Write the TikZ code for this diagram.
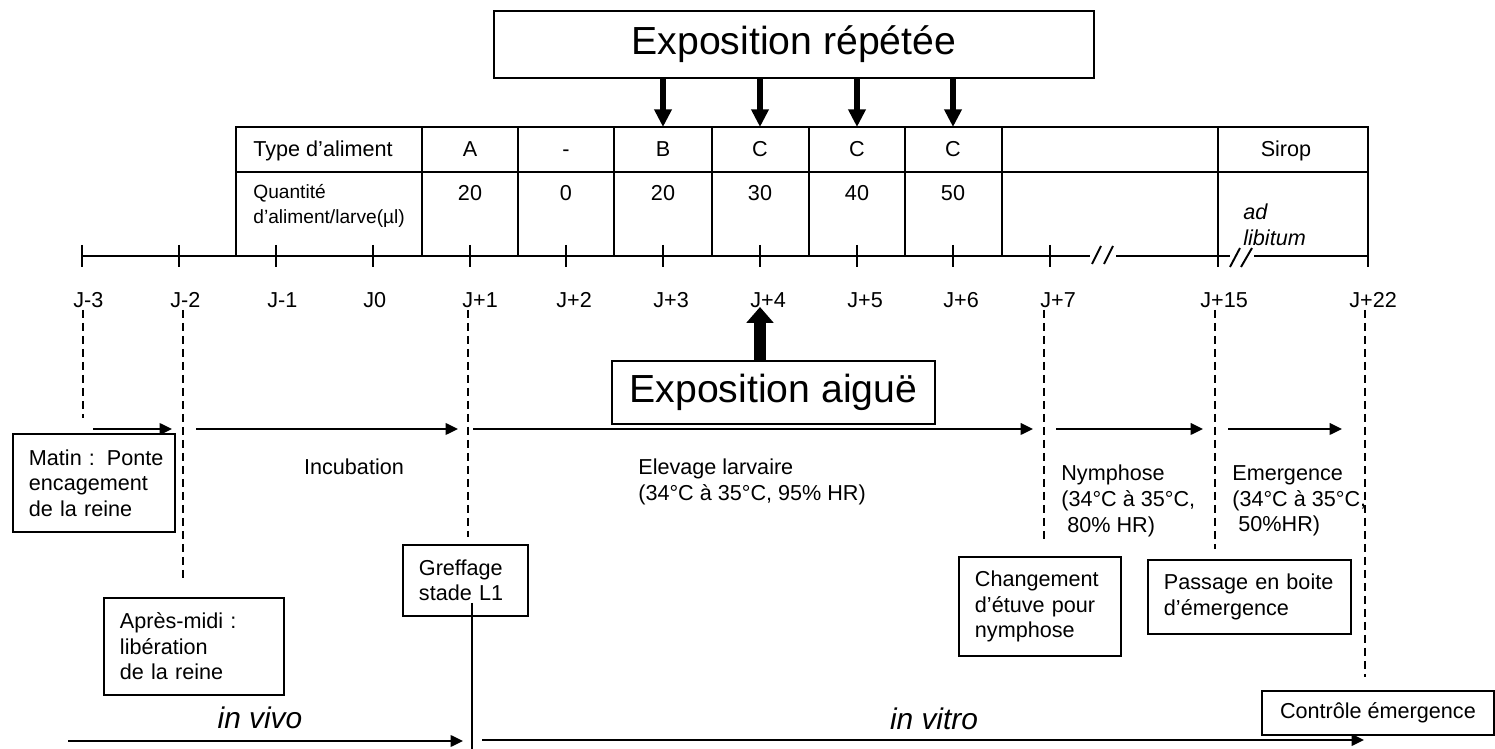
\documentclass[tikz,border=0pt]{standalone}
\usepackage{fontspec}
\setmainfont{Liberation Sans}
\usetikzlibrary{arrows.meta,positioning,calc}

\begin{document}
\begin{tikzpicture}[
  x=0.02cm, y=-0.02cm,
  font=\fontsize{12.3}{14.6}\selectfont,
  every node/.style={inner sep=0pt},
  rule/.style={line width=1.1pt},
  guide/.style={line width=1.1pt, dash pattern=on 0.16cm off 0.1cm},
  phase/.style={line width=1.2pt, -{Triangle[length=7pt,width=6.5pt]}},
  expo/.style={line width=3pt, -{Triangle[length=10pt,width=9.5pt]}},
  acute/.style={line width=7pt, -{Triangle[length=9pt,width=15pt]}},
  title/.style={draw, line width=1.1pt, font=\fontsize{22.3}{26}\selectfont, anchor=north west},
  event/.style={draw, line width=1.1pt, align=left, inner xsep=0.32cm, anchor=north west},
  mode/.style={font=\fontsize{17}{20}\selectfont\itshape},
]
  \useasboundingbox (0,0) rectangle (1495,749);

  % exposure boxes
  \node[title, minimum width=12cm, minimum height=1.34cm] (rep) at (493,10) {Exposition répétée};
  \node[title, minimum width=6.46cm, minimum height=1.26cm] (aigue) at (611,360) {Exposition aiguë};

  % food table
  \coordinate (tabtop) at (236,127);
  \draw[rule] (236,256) -- (tabtop) -- (1368,127) -- (1368,267);
  \draw[rule] (236,172) -- (1368,172);
  \foreach \x in {422,518,614,712,809,905,1002} \draw[rule] (\x,127) -- (\x,256);
  \draw[rule] (1218,127) -- (1218,267);

  \node[anchor=base west] (type) at (253,157) {Type d’aliment};
  \node[anchor=west, align=left, font=\fontsize{10.9}{14.2}\selectfont] (qty) at (253,206) {Quantité\\d’aliment/larve(µl)};
  \foreach \x/\t/\q [count=\k] in {470/A/20, 566/-/0, 663/B/20, 760/C/30, 857/C/40, 953/C/50} {
    \node[anchor=base] (f\k) at (\x,157) {\t};
    \node[anchor=base] (q\k) at (\x,201) {\q};
  }
  \node[anchor=base] (sirop) at (1286,157) {Sirop};
  \node[anchor=west, align=left, font=\fontsize{12.3}{14.6}\selectfont\itshape] (adlib) at (1243,225) {ad\\libitum};

  % time axis
  \draw[rule] (82,256) -- (1090,256) (1116,256) -- (1230,256) (1254,256) -- (1368,256);
  \draw[rule] (1092,264) -- (1101,246) (1104,264) -- (1113,246);
  \draw[rule] (1230,267) -- (1240,248) (1241,267) -- (1252,248);
  \foreach \x/\lab/\o [count=\i from 0] in {82/J-3/9, 179/J-2/9, 276/J-1/9, 373/J0/10, 470/J+1/8,
      566/J+2/10, 663/J+3/10, 760/J+4/10, 857/J+5/10, 953/J+6/10, 1050/J+7/10, 1218/J+15/18, 1368/J+22/19} {
    \coordinate (d\i) at (\x,256);
    \draw[rule] (\x,245) -- (\x,267);
    \node[anchor=base west] (l\i) at (\x-\o,308) {\lab};
  }

  \foreach \i in {6,...,9} \draw[expo] (rep.south -| d\i) -- (d\i |- tabtop);
  \coordinate (hit) at (760,307);
  \draw[acute] (aigue.north -| d7) -- (hit);

  % day guides
  \foreach \x/\y in {83/418, 183/580, 468/537, 1044/539, 1215/549, 1365/677}
    \draw[guide] (\x,310) -- (\x,\y);

  % phases
  \foreach \a/\b [count=\k] in {93/172, 196/458, 473/1033, 1056/1203, 1228/1342} {
    \coordinate (ph\k s) at (\a,429);
    \coordinate (ph\k e) at (\b,429);
    \draw[phase] (ph\k s) -- (ph\k e);
  }
  \node[anchor=base] (incub) at (354,475) {Incubation};
  \node[anchor=west, align=left] (larve) at (638,482) {Elevage larvaire\\(34°C à 35°C, 95\% HR)};
  \node[anchor=west, align=left] (nymph) at (1061,501) {Nymphose\\(34°C à 35°C,\\\hspace*{.28em}80\% HR)};
  \node[anchor=west, align=left] (emerg) at (1232,501) {Emergence\\(34°C à 35°C,\\\hspace*{.28em}50\%HR)};

  % events
  \node[event, text width=2.6cm, minimum height=1.96cm] (matin) at (12,433)
    {\mbox{Matin :\hspace{0.55em}Ponte}\\encagement\\de la reine};
  \node[event, text width=2.96cm, minimum height=1.94cm] (apres) at (103,597)
    {Après-midi :\\libération\\de la reine};
  \node[event, text width=1.86cm, minimum height=1.42cm] (greffe) at (402,544)
    {Greffage\\stade L1};
  \node[event, text width=2.6cm, minimum height=1.98cm] (etuve) at (958,556)
    {Changement\\d’étuve pour\\nymphose};
  \node[event, text width=3.42cm, minimum height=1.48cm] (boite) at (1147,559)
    {\mbox{Passage en boite}\\d’émergence};
  \node[draw, line width=1.1pt, anchor=north west, minimum width=4.64cm, minimum height=0.88cm] (ctrl) at (1261,690)
    {Contrôle émergence};

  % in vivo / in vitro
  \coordinate (cut) at (472,603);
  \draw[rule] (cut) -- (472,749);
  \coordinate (vivo s) at (68,741);
  \coordinate (vivo e) at (463,741);
  \coordinate (vitro s) at (482,740);
  \coordinate (vitro e) at (1364,740);
  \draw[phase] (vivo s) -- (vivo e);
  \draw[phase] (vitro s) -- (vitro e);
  \node[mode, anchor=base] (vivo) at (260,728) {in vivo};
  \node[mode, anchor=base] (vitro) at (934,729) {in vitro};
\end{tikzpicture}
\end{document}
